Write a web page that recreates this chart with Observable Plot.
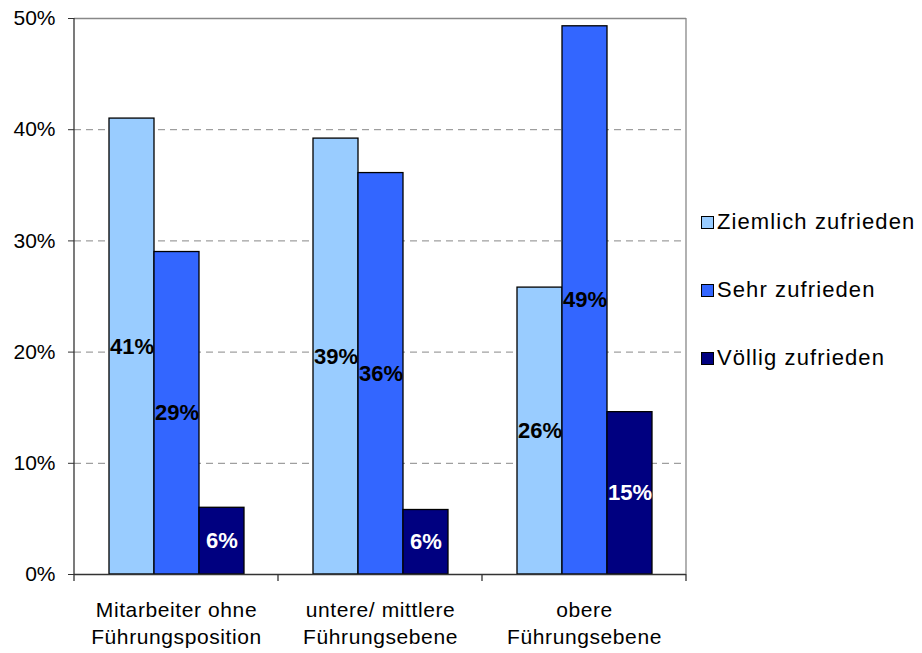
<!DOCTYPE html>
<html><head><meta charset="utf-8">
<script src="https://cdn.jsdelivr.net/npm/d3@7"></script>
<script src="https://cdn.jsdelivr.net/npm/@observablehq/plot@0.6"></script>
<style>
body{margin:0;background:#fff;font-family:"Liberation Sans",Arial,sans-serif;}
#wrap{position:relative;width:922px;height:653px;}
#legend{position:absolute;left:701px;top:209px;}
.item{display:flex;align-items:center;height:26px;margin-bottom:42px;font-size:22px;letter-spacing:1.1px;color:#000;white-space:nowrap;}
.sw{width:11px;height:11px;border:1px solid #000;margin-right:3px;flex:none;}
</style></head>
<body><div id="wrap"></div>
<script>
const categories = ["Mitarbeiter ohne\nFührungsposition", "untere/ mittlere\nFührungsebene", "obere\nFührungsebene"];
const series = ["Ziemlich zufrieden", "Sehr zufrieden", "Völlig zufrieden"];
const colors = ["#99CCFF", "#3366FF", "#000080"];
const ziemlich = [41.0, 39.2, 25.8];
const sehr = [29.0, 36.1, 49.3];
const voellig = [6.0, 5.8, 14.6];
const yTicks = [0, 10, 20, 30, 40, 50];

const seriesValues = [ziemlich, sehr, voellig];
const data = categories.flatMap((c, i) => series.map((s, j) => ({cat: c, series: s, value: seriesValues[j][i]})));

const chart = Plot.plot({
  width: 922, height: 653,
  marginLeft: 74, marginRight: 236, marginTop: 18, marginBottom: 79,
  style: {fontFamily: "'Liberation Sans', Arial, sans-serif", fontSize: "21px", color: "#000", background: "#fff", overflow: "visible"},
  fx: {domain: categories, padding: 0, label: null, axis: null},
  x: {domain: series, paddingInner: 0, paddingOuter: 0.75, axis: null},
  y: {domain: [0, 50], label: null, axis: null},
  color: {domain: series, range: colors},
  marks: [
    Plot.ruleY([10, 20, 30, 40], {stroke: "#888", strokeDasharray: "7,5", strokeWidth: 1}),
    Plot.ruleY([50], {stroke: "#888", strokeWidth: 1.3}),
    Plot.barY(data, {fx: "cat", x: "series", y: "value", fill: "series", stroke: "#000", strokeWidth: 1.3, inset: 0}),
    Plot.text(data.filter(d => d.series !== series[2]), {fx: "cat", x: "series", y: d => d.value / 2, text: d => Math.round(d.value) + "%", fill: "#000", fontWeight: "bold", fontSize: 22}),
    Plot.text(data.filter(d => d.series === series[2]), {fx: "cat", x: "series", y: d => d.value / 2, text: d => Math.round(d.value) + "%", fill: "#fff", fontWeight: "bold", fontSize: 22}),
    Plot.ruleY([0], {stroke: "#333", strokeWidth: 1.3}),
    Plot.axisY({ticks: yTicks, tickSize: 6, tickPadding: 13, tickFormat: d => d + "%", fontSize: 21, stroke: "#333", anchor: "left", label: null}),
    Plot.axisFx({tickSize: 0, tickPadding: 24, fontSize: 21, lineHeight: 1.27, label: null, anchor: "bottom"})
  ]
});

const svg = d3.select(chart);
svg.selectAll("g[aria-label='fx-axis tick label'] text").style("letter-spacing", "0.6px");
const fx = chart.scale("fx"), y = chart.scale("y");
const left = fx.range[0], right = fx.range[1];
const y0 = y.apply(0), yTop = y.apply(50);
const g = svg.append("g");
g.append("line").attr("x1", left).attr("x2", left).attr("y1", yTop).attr("y2", y0 + 7).attr("stroke", "#333").attr("stroke-width", 1.3);
g.append("line").attr("x1", right).attr("x2", right).attr("y1", yTop).attr("y2", y0).attr("stroke", "#888").attr("stroke-width", 1.3);
const bounds = categories.slice(1).map(c => fx.apply(c)).concat([right]);
bounds.forEach(b => g.append("line").attr("x1", b).attr("x2", b).attr("y1", y0).attr("y2", y0 + 7).attr("stroke", "#333").attr("stroke-width", 1.3));

const wrap = document.getElementById("wrap");
wrap.appendChild(chart);
const legend = document.createElement("div");
legend.id = "legend";
series.forEach((s, i) => {
  const it = document.createElement("div"); it.className = "item";
  const sw = document.createElement("span"); sw.className = "sw"; sw.style.background = colors[i];
  const t = document.createElement("span"); t.textContent = s;
  it.appendChild(sw); it.appendChild(t); legend.appendChild(it);
});
wrap.appendChild(legend);
</script>
</body></html>
